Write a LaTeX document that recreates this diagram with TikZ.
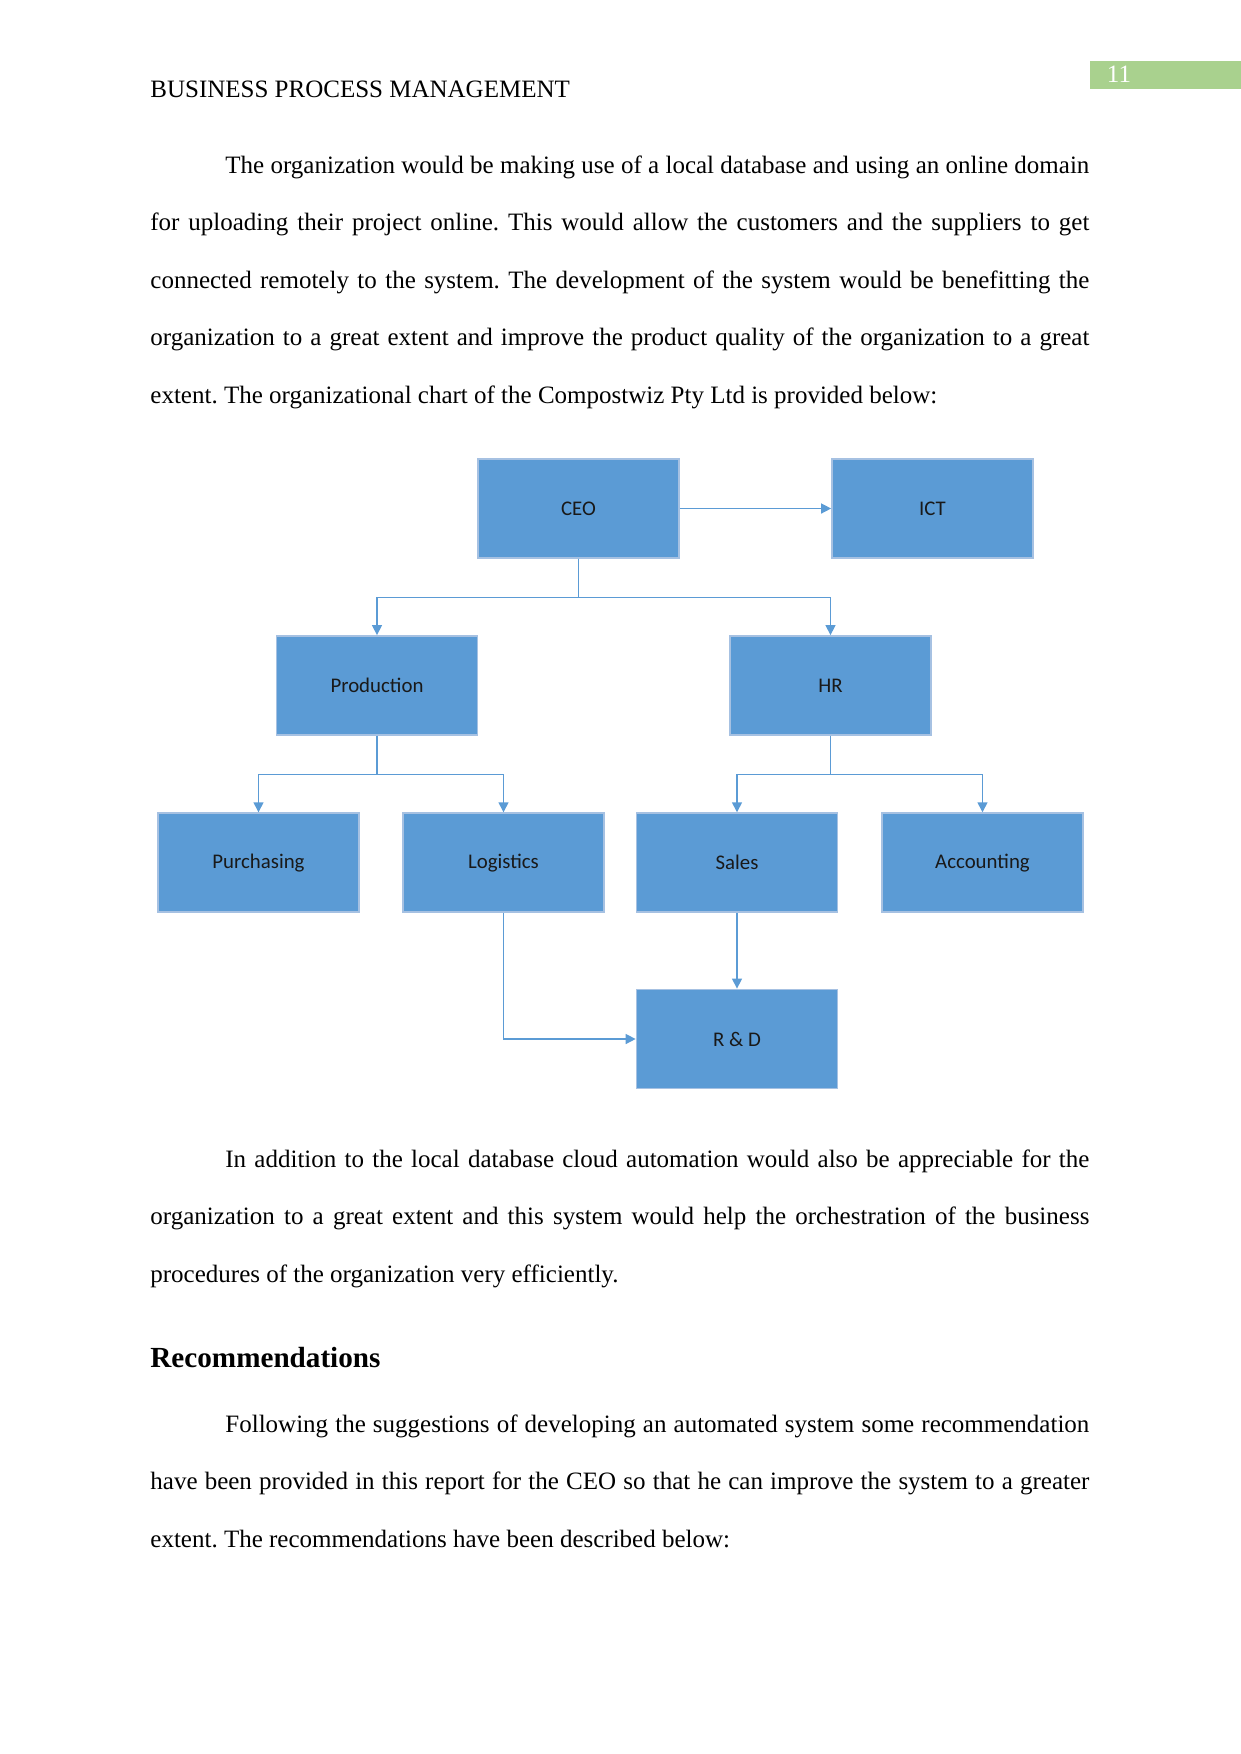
\documentclass[tikz,border=0pt]{standalone}
\usepackage{fontspec}
\setmainfont{Liberation Serif}
\newfontfamily\calibri{Carlito}
\usepackage{tikz}
\usetikzlibrary{arrows.meta}

\definecolor{boxblue}{HTML}{5B9BD5}
\definecolor{boxedge}{HTML}{A6C1E2}
\definecolor{pagegreen}{HTML}{A9D18E}

\newcommand{\fullline}[2]{\hbox to #1{#2}}
\frenchspacing

\begin{document}
\begin{tikzpicture}[
  x=0.48pt,
  y=-0.48pt,
  every node/.style={font=\fontsize{12pt}{14pt}\selectfont},
  unit/.style={
    draw=boxedge,
    line width=0.8pt,
    fill=boxblue,
    inner sep=0pt,
    minimum width=96.5pt,
    minimum height=47.6pt,
    text=black!90,
    font=\calibri\fontsize{10pt}{12pt}\selectfont
  },
  arrow/.style={-{Triangle[length=4.8pt,width=4.8pt]}, draw=boxblue, line width=0.7pt},
  bodyline/.style={anchor=base west, inner sep=0pt}
]
\useasboundingbox (0,0) rectangle (1241,1754);

% header
\fill[pagegreen] (1090,61) rectangle (1241,89);
\node[bodyline, text=white] (pagenum) at (1106.5,82.5) {11};
\node[bodyline] (head) at (150,97.5) {BUSINESS PROCESS MANAGEMENT};

% first paragraph
\node[bodyline] (p1a) at (225,173) {\fullline{414.7pt}{The organization would be making use of a local database and using an online domain}};
\node[bodyline] (p1b) at (150,230.5) {\fullline{450.7pt}{for uploading their project online. This would allow the customers and the suppliers to get}};
\node[bodyline] (p1c) at (150,288) {\fullline{450.7pt}{connected remotely to the system. The development of the system would be benefitting the}};
\node[bodyline] (p1d) at (150,345.5) {\fullline{450.7pt}{organization to a great extent and improve the product quality of the organization to a great}};
\node[bodyline] (p1e) at (150,403) {extent. The organizational chart of the Compostwiz Pty Ltd is provided below:};

% chart
\node[unit] (ceo) at (578.5,508.5) {CEO};
\node[unit] (ict) at (932.5,508.5) {ICT};
\node[unit] (prod) at (377,685.5) {Production};
\node[unit] (hr) at (830.5,685.5) {HR};
\node[unit] (purch) at (258.5,862.7) {Purchasing};
\node[unit] (logi) at (503.5,862.7) {Logistics};
\node[unit] (sales) at (737,862.7) {Sales};
\node[unit] (acct) at (982.5,862.7) {Accounting};
\node[unit] (rnd) at (737,1039) {R \& D};

\draw[arrow] (ceo) -- (ict);
\draw[arrow] (ceo.south) -- ++(0,38.5) -| (prod.north);
\draw[arrow] (ceo.south) -- ++(0,38.5) -| (hr.north);
\draw[arrow] (prod.south) -- ++(0,38.5) -| (purch.north);
\draw[arrow] (prod.south) -- ++(0,38.5) -| (logi.north);
\draw[arrow] (hr.south) -- ++(0,38.5) -| (sales.north);
\draw[arrow] (hr.south) -- ++(0,38.5) -| (acct.north);
\draw[arrow] (sales) -- (rnd);
\draw[arrow] (logi.south) |- (rnd.west);

% second paragraph
\node[bodyline] (p2a) at (225,1167) {\fullline{414.7pt}{In addition to the local database cloud automation would also be appreciable for the}};
\node[bodyline] (p2b) at (150,1224.5) {\fullline{450.7pt}{organization to a great extent and this system would help the orchestration of the business}};
\node[bodyline] (p2c) at (150,1282) {procedures of the organization very efficiently.};

% recommendations
\node[bodyline, font=\fontsize{14pt}{16pt}\selectfont\bfseries] (rec) at (150,1367.5) {Recommendations};
\node[bodyline] (p3a) at (225,1432) {\fullline{414.7pt}{Following the suggestions of developing an automated system some recommendation}};
\node[bodyline] (p3b) at (150,1489.5) {\fullline{450.7pt}{have been provided in this report for the CEO so that he can improve the system to a greater}};
\node[bodyline] (p3c) at (150,1547) {extent. The recommendations have been described below:};
\end{tikzpicture}
\end{document}
